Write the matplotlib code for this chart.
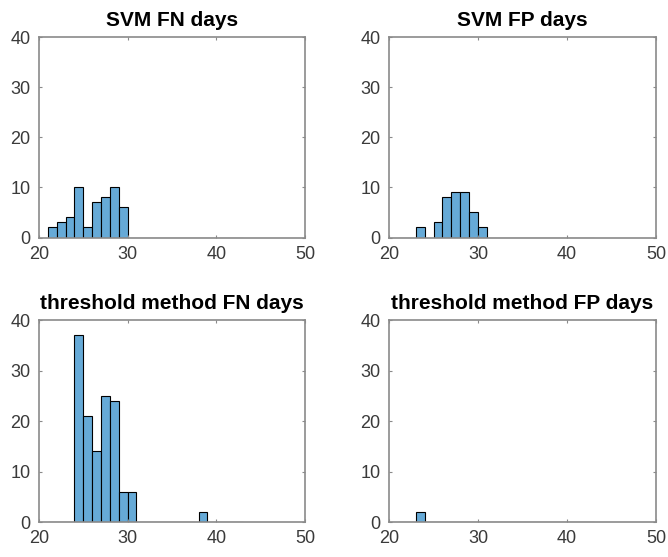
import matplotlib
matplotlib.use('Agg')
import matplotlib.pyplot as plt
import numpy as np

# Bin edges (width 1 day) shared by all four histograms
bin_edges = np.arange(21, 44)

# Counts per bin, starting at day 21
svm_fn = [2, 3, 4, 10, 2, 7, 8, 10, 6]
svm_fp = [0, 0, 2, 0, 3, 8, 9, 9, 5, 2]
thr_fn = [0, 0, 0, 37, 21, 14, 25, 24, 6, 6, 0, 0, 0, 0, 0, 0, 0, 2]
thr_fp = [0, 0, 2]

titles = ['SVM FN days', 'SVM FP days',
          'threshold method FN days', 'threshold method FP days']
x_ticks = [20, 30, 40, 50]
y_ticks = [0, 10, 20, 30, 40]

plt.rcParams['font.family'] = ['Liberation Sans', 'DejaVu Sans']

fig = plt.figure(figsize=(6.68, 5.57), dpi=100)

#Axes positions in figure fractions (MATLAB subplot style)
positions = [[0.0584, 0.5736, 0.398, 0.3594],
             [0.5823, 0.5736, 0.400, 0.3594],
             [0.0584, 0.0628, 0.398, 0.3622],
             [0.5823, 0.0628, 0.400, 0.3622]]

face = '#66AAD7'
axis_col = '#8a8a8a'
text_col = '#3a3a3a'

for pos, counts, title in zip(positions, [svm_fn, svm_fp, thr_fn, thr_fp], titles):
    ax = fig.add_axes(pos)
    #Pad counts with zeros so every panel spans the same bins
    full = np.zeros(len(bin_edges) - 1)
    full[:len(counts)] = counts
    ax.bar(bin_edges[:-1], full, width=1.0, align='edge',
           color=face, edgecolor='black', linewidth=0.8)
    ax.set_xlim(20, 50)
    ax.set_ylim(0, 40)
    ax.set_xticks(x_ticks)
    ax.set_yticks(y_ticks)
    ax.tick_params(direction='in', length=2.5, width=0.8, colors=axis_col,
                   labelcolor=text_col, labelsize=13, top=True, right=True,
                   pad=6)
    for s in ax.spines.values():
        s.set_color(axis_col)
        s.set_linewidth(1.2)
    ax.set_title(title, fontsize=15, fontweight='bold', pad=8)

plt.savefig('out.png', dpi=100)
